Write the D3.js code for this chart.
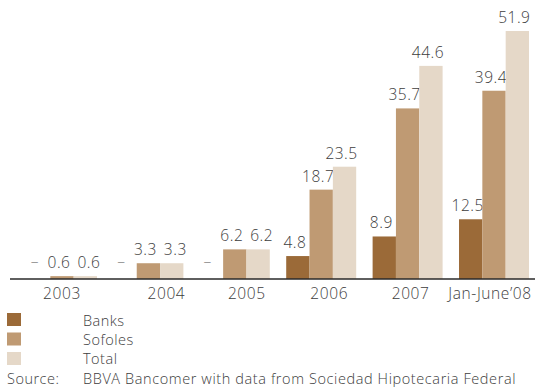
<!DOCTYPE html>
<html><head><meta charset="utf-8">
<script src="https://cdn.jsdelivr.net/npm/d3@7"></script>
<style>
body{margin:0;background:#fff;}
text{font-family:"Open Sans","Liberation Sans",sans-serif;font-weight:300;}
</style></head>
<body><svg id="c" width="535" height="388"></svg>
<script>
const categories = ["2003","2004","2005","2006","2007","Jan-June\u201908"];
const seriesNames = ["Banks","Sofoles","Total"];
const banks = [null,null,null,4.8,8.9,12.5];
const sofoles = [0.6,3.3,6.2,18.7,35.7,39.4];
const total = [0.6,3.3,6.2,23.5,44.6,51.9];
const colors = ["#9b6a38","#bf9a73","#e5d8c8"];
const sourceLabel = "Source:";
const sourceText = "BBVA Bancomer with data from Sociedad Hipotecaria Federal";
// small horizontal nudges of the category labels, as laid out in the original
const labelNudge = [0,18,12,8,3,-4];

const svg = d3.select("#c");
const base = 279;
const fs = 15.5;
const x = d3.scaleBand().domain(categories).range([27,529]).paddingInner(0.19).paddingOuter(0);
const xs = d3.scaleBand().domain(seriesNames).range([0,x.bandwidth()]);
const y = d3.scaleLinear().domain([0,51.9]).range([base,31]);
const textColor = "#3d3d3d";

const data = [banks,sofoles,total];
categories.forEach((c,i)=>{
  const g = svg.append("g").attr("transform",`translate(${x(c)},0)`);
  const labels = [];
  seriesNames.forEach((s,j)=>{
    const v = data[j][i];
    const cx = xs(s)+xs.bandwidth()/2;
    if(v==null){
      g.append("text").attr("x",cx-4).attr("y",base-12).attr("text-anchor","middle")
        .attr("font-size",fs).attr("fill","#8a8a8a").text("\u2013");
      labels.push(null);
      return;
    }
    g.append("rect").attr("x",xs(s)).attr("width",xs.bandwidth())
      .attr("y",y(v)).attr("height",base-y(v)).attr("fill",colors[j]);
    const t = g.append("text").attr("x",cx-3).attr("y",y(v)-8).attr("text-anchor","middle")
      .attr("font-size",fs).attr("letter-spacing",0.5).attr("fill",textColor).text(v.toFixed(1));
    labels.push({t, cx:cx-3, yy:y(v)-8, w:t.node().getComputedTextLength()});
  });
  // keep neighbouring value labels apart when they sit at the same height
  for(let j=1;j<labels.length;j++){
    const a = labels[j-1], b = labels[j];
    if(!a||!b) continue;
    if(Math.abs(a.yy-b.yy) < 16){
      const need = (a.cx + a.w/2 + 7) - (b.cx - b.w/2);
      if(need>0){ b.cx += need; b.t.attr("x", b.cx); }
    }
  }
});

svg.append("line").attr("x1",10).attr("x2",535).attr("y1",base).attr("y2",base)
  .attr("stroke","#2a2a2a").attr("stroke-width",1.5);

const ax = svg.append("g").attr("transform",`translate(0,${base})`)
  .call(d3.axisBottom(x).tickSize(0).tickPadding(0));
ax.select(".domain").remove();
ax.selectAll("text").attr("font-size",fs).attr("fill",textColor)
  .attr("font-family","'Open Sans','Liberation Sans',sans-serif").attr("font-weight",300)
  .attr("letter-spacing",0.6)
  .attr("dy",null).attr("y",20).attr("x",(d,i)=>labelNudge[i]);

const lfs = 14.5;
const leg = svg.append("g");
seriesNames.forEach((s,j)=>{
  leg.append("rect").attr("x",7).attr("y",313+j*19.5).attr("width",14).attr("height",13).attr("fill",colors[j]);
  leg.append("text").attr("x",83).attr("y",326+j*19.2).attr("font-size",lfs).attr("letter-spacing",0.5).attr("fill",textColor).text(s);
});
leg.append("text").attr("x",7).attr("y",384).attr("font-size",lfs).attr("letter-spacing",0.5).attr("fill",textColor).text(sourceLabel);
leg.append("text").attr("x",83).attr("y",384).attr("font-size",lfs).attr("letter-spacing",0.6).attr("fill",textColor).text(sourceText);
</script></body></html>
